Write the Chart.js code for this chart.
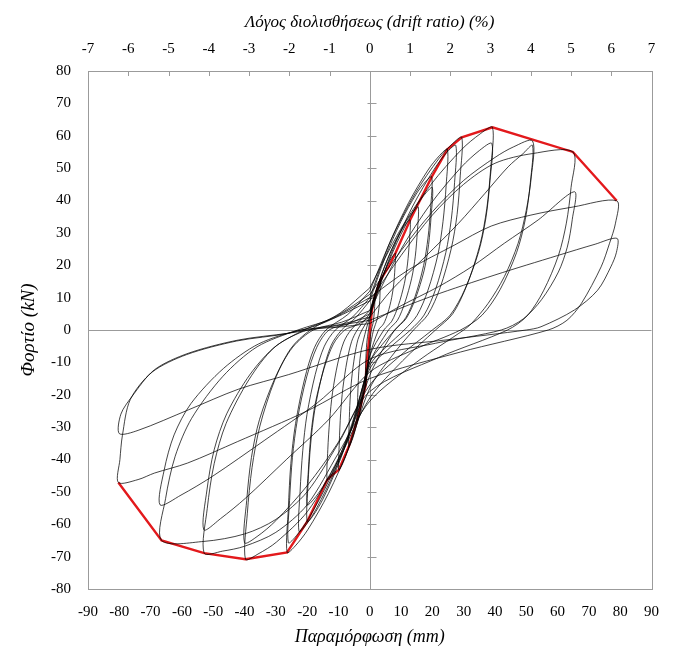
<!DOCTYPE html>
<html><head><meta charset="utf-8">
<script src="https://cdn.jsdelivr.net/npm/chart.js@4"></script>
<style>html,body{margin:0;padding:0;background:#fff}canvas{display:block}</style>
</head><body>
<canvas id="c" width="673" height="648"></canvas>
<script>
// Tick values
const deformationTicks = [-90,-80,-70,-60,-50,-40,-30,-20,-10,0,10,20,30,40,50,60,70,80,90];
const loadTicks = [-80,-70,-60,-50,-40,-30,-20,-10,0,10,20,30,40,50,60,70,80];
const driftTicks = [-7,-6,-5,-4,-3,-2,-1,0,1,2,3,4,5,6,7];

// Envelope (red) : deformation (mm), load (kN)
const envelopeX = [-80.3,-66.5,-52.9,-39.7,-26.4,-20,-13.6,-12,-9.9,-6.7,-4,-1.4,-0.9,0.2,0.7,1.6,3.4,6,8.2,12.9,19.8,24.8,29.4,39.2,64.9,78.9];
const envelopeY = [-47.1,-65,-68.9,-70.8,-68.7,-59.2,-46.3,-44.8,-43.2,-36,-27.8,-17.5,-9.3,1,6.2,10.3,15.4,19.5,23.7,34,47.3,55.8,59.5,62.6,55,39.9];

// Hysteresis cycles [deformation mm, load kN]
const loop02 = [[0,3],[0.8,7.7],[1.6,10.3],[1.5,6.2],[1.1,2.3],[0.5,0],[0,-4],[-0.7,-12.6],[-1.4,-17.5],[-1.3,-10.5],[-0.95,-3.9],[-0.4,0],[0,3]];
const loop04 = [[0,4],[0.85,8.1],[1.7,11.3],[2.55,13.8],[3.4,15.4],[3.3,12.3],[3.2,9.2],[2.9,6.5],[2.4,3.4],[1.2,0],[0,-6],[-1,-13.8],[-2,-20],[-3,-24.7],[-4,-27.8],[-3.9,-22.2],[-3.7,-16.7],[-3.4,-11.7],[-2.7,-6.1],[-1.2,0],[0,4]];
const loop08 = [[0,4],[2.05,11.2],[4.1,16.7],[6.15,21],[7.4,22.9],[8.2,23.7],[8.04,19],[7.66,14.2],[7.01,10],[5.77,5.2],[4.42,1.9],[2.8,0],[0,-8],[-1.7,-18.1],[-3.35,-25.9],[-5,-32.1],[-6,-34.9],[-6.7,-36],[-6.57,-28.8],[-6.28,-21.6],[-5.78,-15.1],[-4.81,-7.9],[-3.76,-2.9],[-2.5,0],[0,4]];
const loop13 = [[0,5],[3.2,15.5],[6.45,23.6],[9.7,30],[11.6,32.9],[12.9,34],[12.65,27.2],[12.06,20.4],[11.05,14.3],[9.12,7.5],[7.02,2.7],[4.5,0],[0,-8],[-2.5,-20.6],[-4.95,-30.5],[-7.4,-38.2],[-8.9,-41.8],[-9.9,-43.2],[-9.72,-34.6],[-9.31,-25.9],[-8.6,-18.1],[-7.25,-9.5],[-5.77,-3.5],[-4,0],[0,5]];
const loop15 = [[0,6],[3.9,17.5],[7.75,26.5],[11.6,33.5],[14,36.7],[15.5,38],[15.2,30.4],[14.55,22.8],[13.4,16],[11.2,8.4],[8.85,3],[6,0],[0,-10],[-3.4,-23.1],[-6.8,-33.2],[-10.2,-41.2],[-12.2,-44.8],[-13.6,-46.3],[-13.4,-37],[-12.8,-27.8],[-11.9,-19.4],[-10.2,-10.2],[-8.3,-3.7],[-6,0],[0,6]];
const loop20a = [[0,9],[4.95,22.5],[9.9,33.4],[14.85,42],[17.8,45.8],[19.8,47.3],[19.45,37.8],[18.6,28.4],[17.2,19.9],[14.5,10.4],[11.5,3.8],[8,0],[4,-4.5],[0,-10],[-5,-27.8],[-10,-41.5],[-15,-52.3],[-18,-57.2],[-20,-59.2],[-19.7,-47.4],[-18.9,-35.5],[-17.6,-24.9],[-15,-13],[-12.3,-4.7],[-9,0],[-4.5,3.8],[0,9]];
const loop20b = [[0,4],[5,18.5],[10,29.6],[15,38.4],[18,42.4],[20,44],[19.6,35.2],[18.8,26.4],[17.4,18.5],[14.6,9.7],[11.6,3.5],[8,0],[4,-6.3],[0,-14],[-5,-28.5],[-10,-39.6],[-15,-48.4],[-18,-52.4],[-20,-54],[-19.6,-43.2],[-18.8,-32.4],[-17.4,-22.7],[-14.6,-11.9],[-11.6,-4.3],[-8,0],[-4,1.6],[0,4]];
const loop25 = [[0,10],[6.2,26.5],[12.4,39.3],[18.6,49.4],[22.3,53.9],[24.8,55.8],[24.4,44.6],[23.4,33.5],[21.8,23.4],[18.6,12.3],[15.1,4.5],[11,0],[5.5,-5],[0,-11],[-5.65,-29.5],[-11.3,-43.8],[-16.95,-55],[-20.3,-60.1],[-22.6,-62.2],[-22.25,-49.8],[-21.4,-37.3],[-20.05,-26.1],[-17.4,-13.7],[-14.5,-5],[-11,0],[-5.5,4],[0,10]];
const loop29a = [[0,12],[7.35,29],[14.7,42.5],[22.05,52.9],[26.5,57.6],[29.4,59.5],[28.9,47.6],[27.9,35.7],[26,25],[22.5,13.1],[18.6,4.8],[14,0],[7,-8.1],[0,-18],[-6.6,-36.2],[-13.2,-50.5],[-19.8,-61.7],[-23.8,-66.7],[-26.4,-68.7],[-26,-55],[-25.2,-41.2],[-23.7,-28.9],[-20.8,-15.1],[-17.7,-5.5],[-14,0],[-7,4.8],[0,12]];
const loop29b = [[0,5],[6.9,23.7],[13.75,38.3],[20.6,49.7],[24.75,55],[27.5,57],[27.1,45.6],[26.05,34.2],[24.3,23.9],[21,12.5],[17.35,4.6],[13,0],[6.5,-5.4],[0,-12],[-6.5,-31.3],[-13,-46.4],[-19.5,-58.2],[-23.4,-63.5],[-26,-65.7],[-25.6,-52.6],[-24.7,-39.4],[-23.1,-27.6],[-20.15,-14.5],[-16.9,-5.3],[-13,0],[-6.5,2],[0,5]];
const loop40a = [[0,13],[9.8,31],[19.6,45],[29.4,55.8],[35.3,60.6],[39.2,62.6],[38.65,50.1],[37.4,37.6],[35.2,26.3],[31,13.8],[26.5,5],[21,0],[10.5,-9.5],[0,-21],[-9.9,-40],[-19.85,-56],[-29.8,-65.5],[-35.7,-69.2],[-39.7,-70.8],[-39.1,-56.6],[-37.6,-42.5],[-35.1,-29.7],[-30.4,-15.6],[-25.2,-5.7],[-19,0],[-9.5,5.2],[0,13]];
const loop40b = [[0,6],[9.75,24.5],[19.5,39],[29.25,50.3],[35.1,55.5],[39,57.6],[38.4,46.1],[37.1,34.6],[34.8,24.2],[30.45,12.7],[25.7,4.6],[20,0],[10,-7.7],[0,-17],[-10,-34.6],[-20,-48.1],[-30,-58.9],[-36,-63.8],[-40,-65.7],[-39.3,-52.6],[-37.8,-39.4],[-35.2,-27.6],[-30.1,-14.5],[-24.6,-5.3],[-18,0],[-9,2.4],[0,6]];
const loop52a = [[0,11],[10,24.5],[20,36.5],[30,46.2],[40,53.3],[46,56.6],[52,58.4],[51.6,47.3],[50,37],[47.4,26.8],[43,16.5],[37.8,8.2],[32.5,2],[30,0],[15,-9.9],[0,-22],[-10,-38],[-20,-54],[-30,-62.5],[-40,-66.8],[-47,-68.3],[-52.9,-68.9],[-51.9,-55.1],[-49.7,-41.3],[-45.9,-28.9],[-38.5,-15.2],[-30.6,-5.5],[-21,0],[-10.5,4.4],[0,11]];
const loop52b = [[0,4],[7,12.4],[17.7,22.6],[28.3,32.9],[36.8,42.2],[44.2,50.4],[49,54.5],[52,57],[51.3,45.6],[49.7,34.2],[46.9,23.9],[41.65,12.5],[35.9,4.6],[29,0],[14.5,-5.9],[0,-13],[-13.25,-27.8],[-26.5,-39.9],[-39.75,-52],[-47.7,-58.3],[-53,-61.7],[-52,-49.4],[-49.7,-37],[-45.7,-25.9],[-38.15,-13.6],[-29.9,-4.9],[-20,0],[-10,1.6],[0,4]];
const loop65a = [[0,9],[10,23],[20,35.5],[30,45],[40,51.5],[52,54.5],[64.9,55],[64.3,44],[62.8,33],[60.3,23.1],[55.5,12.1],[50.3,4.4],[44,0],[22,-8.5],[0,-19],[-10,-35],[-20,-50],[-30,-58.5],[-40,-63],[-53,-65.3],[-66.5,-65],[-65.2,-52],[-62.15,-39],[-56.9,-27.3],[-46.9,-14.3],[-36,-5.2],[-23,0],[-11.5,3.6],[0,9]];
const loop65b = [[0,2],[10,7.5],[22,13.4],[32.5,19.5],[43,26.8],[53.8,34],[65.4,42.7],[64.7,34.2],[63.1,25.6],[60.25,17.9],[54.9,9.4],[49,3.4],[42,0],[21,-4.1],[0,-9],[-16.75,-22.5],[-33.5,-34],[-50.25,-45.2],[-60.3,-51],[-67,-54],[-65.65,-43.2],[-62.5,-32.4],[-57.1,-22.7],[-46.75,-11.9],[-35.5,-4.3],[-22,0],[-11,0.8],[0,2]];
const loop79a = [[0,10],[12.4,18.6],[27,26.2],[38.8,32.1],[51.5,35.5],[65,38],[78.9,39.9],[78.5,33],[76.6,26.8],[73.9,19.5],[67.6,8.2],[63,3],[57,0],[29,-6.8],[0,-15],[-20,-25],[-42.3,-34.5],[-58.2,-41.1],[-68.8,-44.2],[-74,-46.2],[-80.3,-47.1],[-79.8,-40],[-79,-32.5],[-76.5,-21.5],[-69.5,-13],[-58.5,-7.6],[-42.5,-3.4],[-26,-1],[-14,2.5],[0,10]];
const loop79b = [[0,3],[20,10.5],[40,17],[60,23],[72,26.5],[79,28.3],[78.8,24],[77,19.5],[72.8,12.3],[65.4,6.2],[54.7,1],[50,0],[25,-3],[0,-6],[-26,-13.8],[-42,-18.3],[-58,-24.7],[-74,-31],[-80,-32],[-79.5,-26],[-76,-20.6],[-68.8,-12.3],[-58,-7.2],[-42,-3.1],[-26,-1],[-14,0.8],[0,3]];

const cycles = [loop02, loop04, loop08, loop13, loop15, loop20a, loop20b, loop25, loop29a, loop29b,
                loop40a, loop40b, loop52a, loop52b, loop65a, loop65b, loop79a, loop79b];

Chart.defaults.font.family = "'Liberation Serif', 'Times New Roman', serif";
Chart.defaults.color = '#000';

const loopDatasets = cycles.map(c => ({
  data: c.map(p => ({x: p[0], y: p[1]})),
  showLine: true, borderColor: 'rgba(0,0,0,0.82)', borderWidth: 0.9,
  pointRadius: 0, tension: 0.3, xAxisID: 'x', yAxisID: 'y'
}));
const envelopeDataset = {
  data: envelopeX.map((v, i) => ({x: v, y: envelopeY[i]})),
  showLine: true, borderColor: '#e3191c', borderWidth: 2.4,
  pointRadius: 0, tension: 0, xAxisID: 'x', yAxisID: 'y'
};

const frame = {
  id: 'frame',
  beforeDatasetsDraw(chart) {
    const {ctx, chartArea: a, scales} = chart;
    const x = scales.x, y = scales.y, x2 = scales.x2;
    ctx.save();
    ctx.strokeStyle = '#9b9b9b';
    ctx.lineWidth = 1;
    const x0 = Math.round(x.getPixelForValue(0)) + 0.5;
    const y0 = Math.round(y.getPixelForValue(0)) + 0.5;
    ctx.beginPath();
    ctx.moveTo(x0, a.top); ctx.lineTo(x0, a.bottom);
    ctx.moveTo(a.left, y0); ctx.lineTo(a.right, y0);
    y.ticks.forEach(t => {
      const py = Math.round(y.getPixelForValue(t.value)) + 0.5;
      ctx.moveTo(x0 - 3, py); ctx.lineTo(x0 + 6, py);
    });
    x2.ticks.forEach(t => {
      const px = Math.round(x2.getPixelForValue(t.value)) + 0.5;
      ctx.moveTo(px, a.top); ctx.lineTo(px, a.top + 5);
    });
    ctx.stroke();
    ctx.strokeRect(Math.round(a.left) + 0.5, Math.round(a.top) + 0.5,
                   Math.round(a.right - a.left), Math.round(a.bottom - a.top));
    ctx.restore();
  }
};

new Chart(document.getElementById('c'), {
  type: 'scatter',
  data: { datasets: [...loopDatasets, envelopeDataset] },
  options: {
    responsive: false, animation: false,
    layout: { padding: { left: 0, right: 19, top: 0, bottom: 0 } },
    plugins: { legend: { display: false }, tooltip: { enabled: false } },
    scales: {
      x: {
        type: 'linear', position: 'bottom', min: -90, max: 90,
        afterBuildTicks: s => { s.ticks = deformationTicks.map(v => ({value: v})); },
        afterFit: s => { s.height = 59; },
        grid: { display: false, drawTicks: false }, border: { display: false },
        ticks: { padding: 14, font: { size: 15 }, color: '#000' },
        title: { display: true, text: 'Παραμόρφωση (mm)', font: { size: 18, style: 'italic' }, padding: { top: 0, bottom: 0 }, color: '#000' }
      },
      x2: {
        type: 'linear', position: 'top', min: -7, max: 7,
        afterBuildTicks: s => { s.ticks = driftTicks.map(v => ({value: v})); },
        afterFit: s => { s.height = 71; },
        grid: { display: false, drawTicks: false }, border: { display: false },
        ticks: { padding: 13, font: { size: 15 }, color: '#000' },
        title: { display: true, text: 'Λόγος διολισθήσεως (drift ratio) (%)', font: { size: 17, style: 'italic' }, padding: { top: 12, bottom: 0 }, color: '#000' }
      },
      y: {
        type: 'linear', position: 'left', min: -80, max: 80,
        afterBuildTicks: s => { s.ticks = loadTicks.map(v => ({value: v})); },
        afterFit: s => { s.width = 88; },
        grid: { display: false, drawTicks: false }, border: { display: false },
        ticks: { padding: 17, font: { size: 15 }, color: '#000' },
        title: { display: true, text: 'Φορτίο (kN)', font: { size: 19, style: 'italic' }, padding: { top: 18, bottom: 0 }, color: '#000' }
      }
    }
  },
  plugins: [frame]
});
</script>
</body></html>
